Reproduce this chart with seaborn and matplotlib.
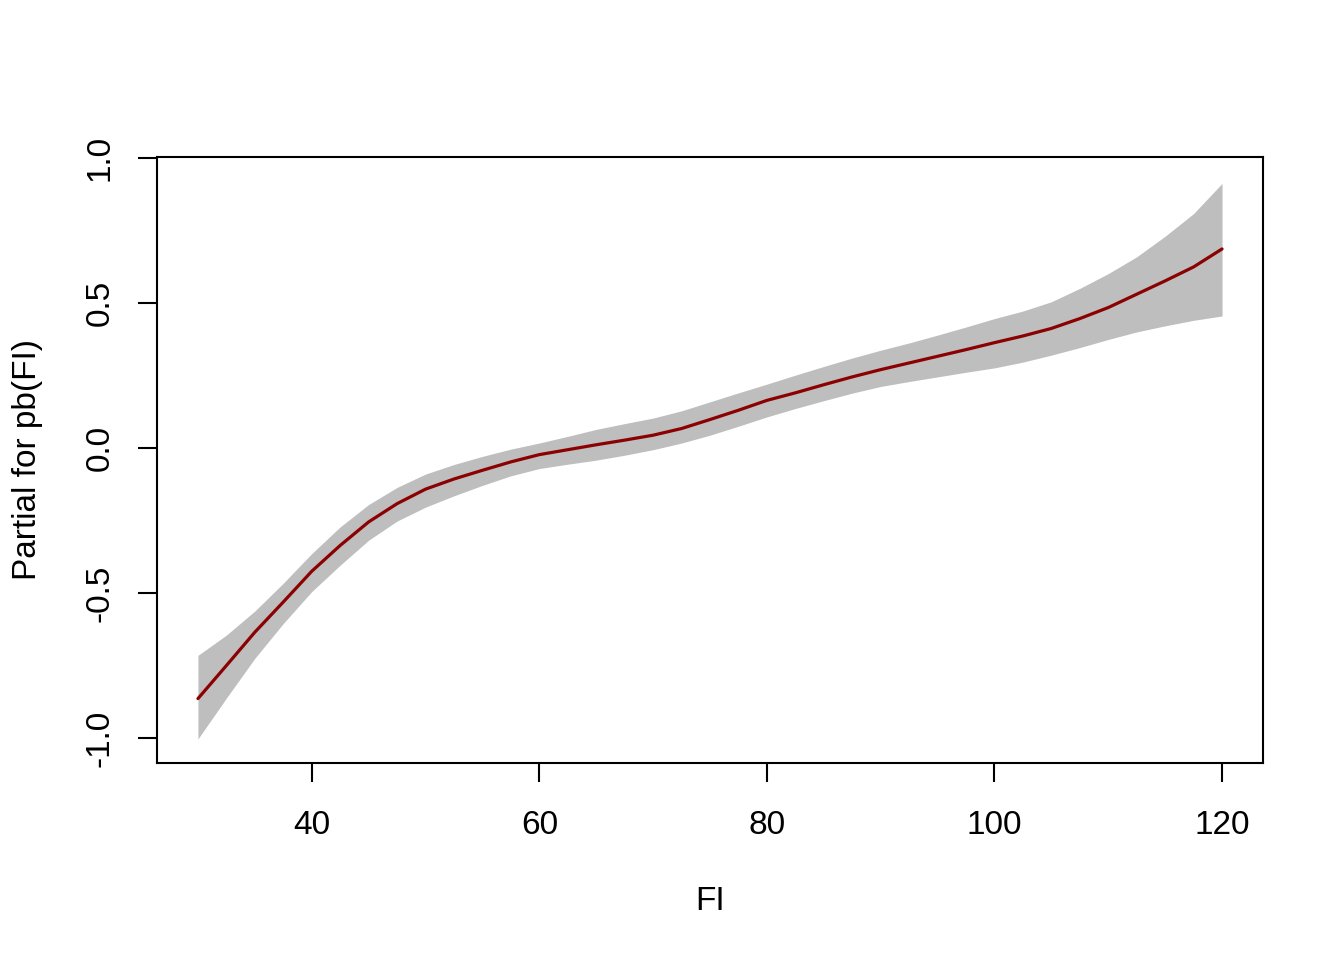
import numpy as np
import pandas as pd
import matplotlib
matplotlib.use("Agg")
import matplotlib.pyplot as plt
import seaborn as sns

# Partial effect of pb(FI) with its band
fi = [30, 32.5, 35, 37.5, 40, 42.5, 45, 47.5, 50, 52.5, 55, 57.5, 60, 62.5, 65, 67.5,
      70, 72.5, 75, 77.5, 80, 82.5, 85, 87.5, 90, 92.5, 95, 97.5, 100, 102.5, 105,
      107.5, 110, 112.5, 115, 117.5, 120]
fit = [-0.864, -0.750, -0.635, -0.531, -0.425, -0.336, -0.255, -0.192, -0.142, -0.107,
       -0.077, -0.048, -0.023, -0.006, 0.011, 0.027, 0.044, 0.067, 0.098, 0.130, 0.164,
       0.190, 0.218, 0.245, 0.270, 0.293, 0.316, 0.339, 0.363, 0.386, 0.412, 0.446,
       0.484, 0.530, 0.576, 0.624, 0.686]
upper = [-0.715, -0.645, -0.562, -0.466, -0.364, -0.272, -0.195, -0.136, -0.090, -0.057,
         -0.029, -0.004, 0.017, 0.040, 0.064, 0.084, 0.103, 0.128, 0.159, 0.190, 0.220,
         0.251, 0.281, 0.310, 0.337, 0.362, 0.389, 0.417, 0.446, 0.472, 0.504, 0.550,
         0.601, 0.659, 0.730, 0.808, 0.912]
lower = [-1.003, -0.862, -0.725, -0.605, -0.495, -0.404, -0.318, -0.252, -0.204, -0.165,
         -0.129, -0.096, -0.071, -0.056, -0.042, -0.025, -0.006, 0.017, 0.044, 0.075,
         0.107, 0.136, 0.163, 0.189, 0.212, 0.229, 0.245, 0.261, 0.276, 0.296, 0.320,
         0.346, 0.374, 0.400, 0.421, 0.440, 0.455]

x_ticks = [40, 60, 80, 100, 120]
y_ticks = [-1.0, -0.5, 0.0, 0.5, 1.0]
y_tick_labels = ["-1.0", "-0.5", "0.0", "0.5", "1.0"]

df = pd.DataFrame({"FI": fi, "fit": fit, "upper": upper, "lower": lower})

sns.set_theme(style="white")
plt.rcParams["font.family"] = ["Liberation Sans", "DejaVu Sans"]
plt.rcParams["axes.unicode_minus"] = False

fig = plt.figure(figsize=(13.44, 9.6), dpi=100)
ax = fig.add_axes([157 / 1344, 197 / 960, 1106 / 1344, 606 / 960])

ax.fill_between(df["FI"], df["lower"], df["upper"], color="#BEBEBE", linewidth=0)
sns.lineplot(data=df, x="FI", y="fit", color="#8B0000", linewidth=2.3, ax=ax)

ax.set_xlim(26.4, 123.6)
ax.set_ylim(-1.086, 1.003)
ax.set_xticks(x_ticks)
ax.set_yticks(y_ticks)
ax.set_yticklabels(y_tick_labels)

for s in ax.spines.values():
    s.set_visible(True)
    s.set_color("black")
    s.set_linewidth(1.5)

ax.tick_params(axis="both", which="major", direction="out", length=14, width=1.5,
               color="black", labelsize=24, labelcolor="black",
               bottom=True, left=True)
ax.tick_params(axis="x", pad=20)
ax.tick_params(axis="y", pad=16)
for lab in ax.get_yticklabels():
    lab.set_rotation(90)
    lab.set_va("center")

ax.set_xlabel("FI", fontsize=24, color="black", labelpad=32)
ax.set_ylabel("Partial for pb(FI)", fontsize=24, color="black", labelpad=30)
ax.grid(False)

fig.savefig("out.png", dpi=100, facecolor="white")
